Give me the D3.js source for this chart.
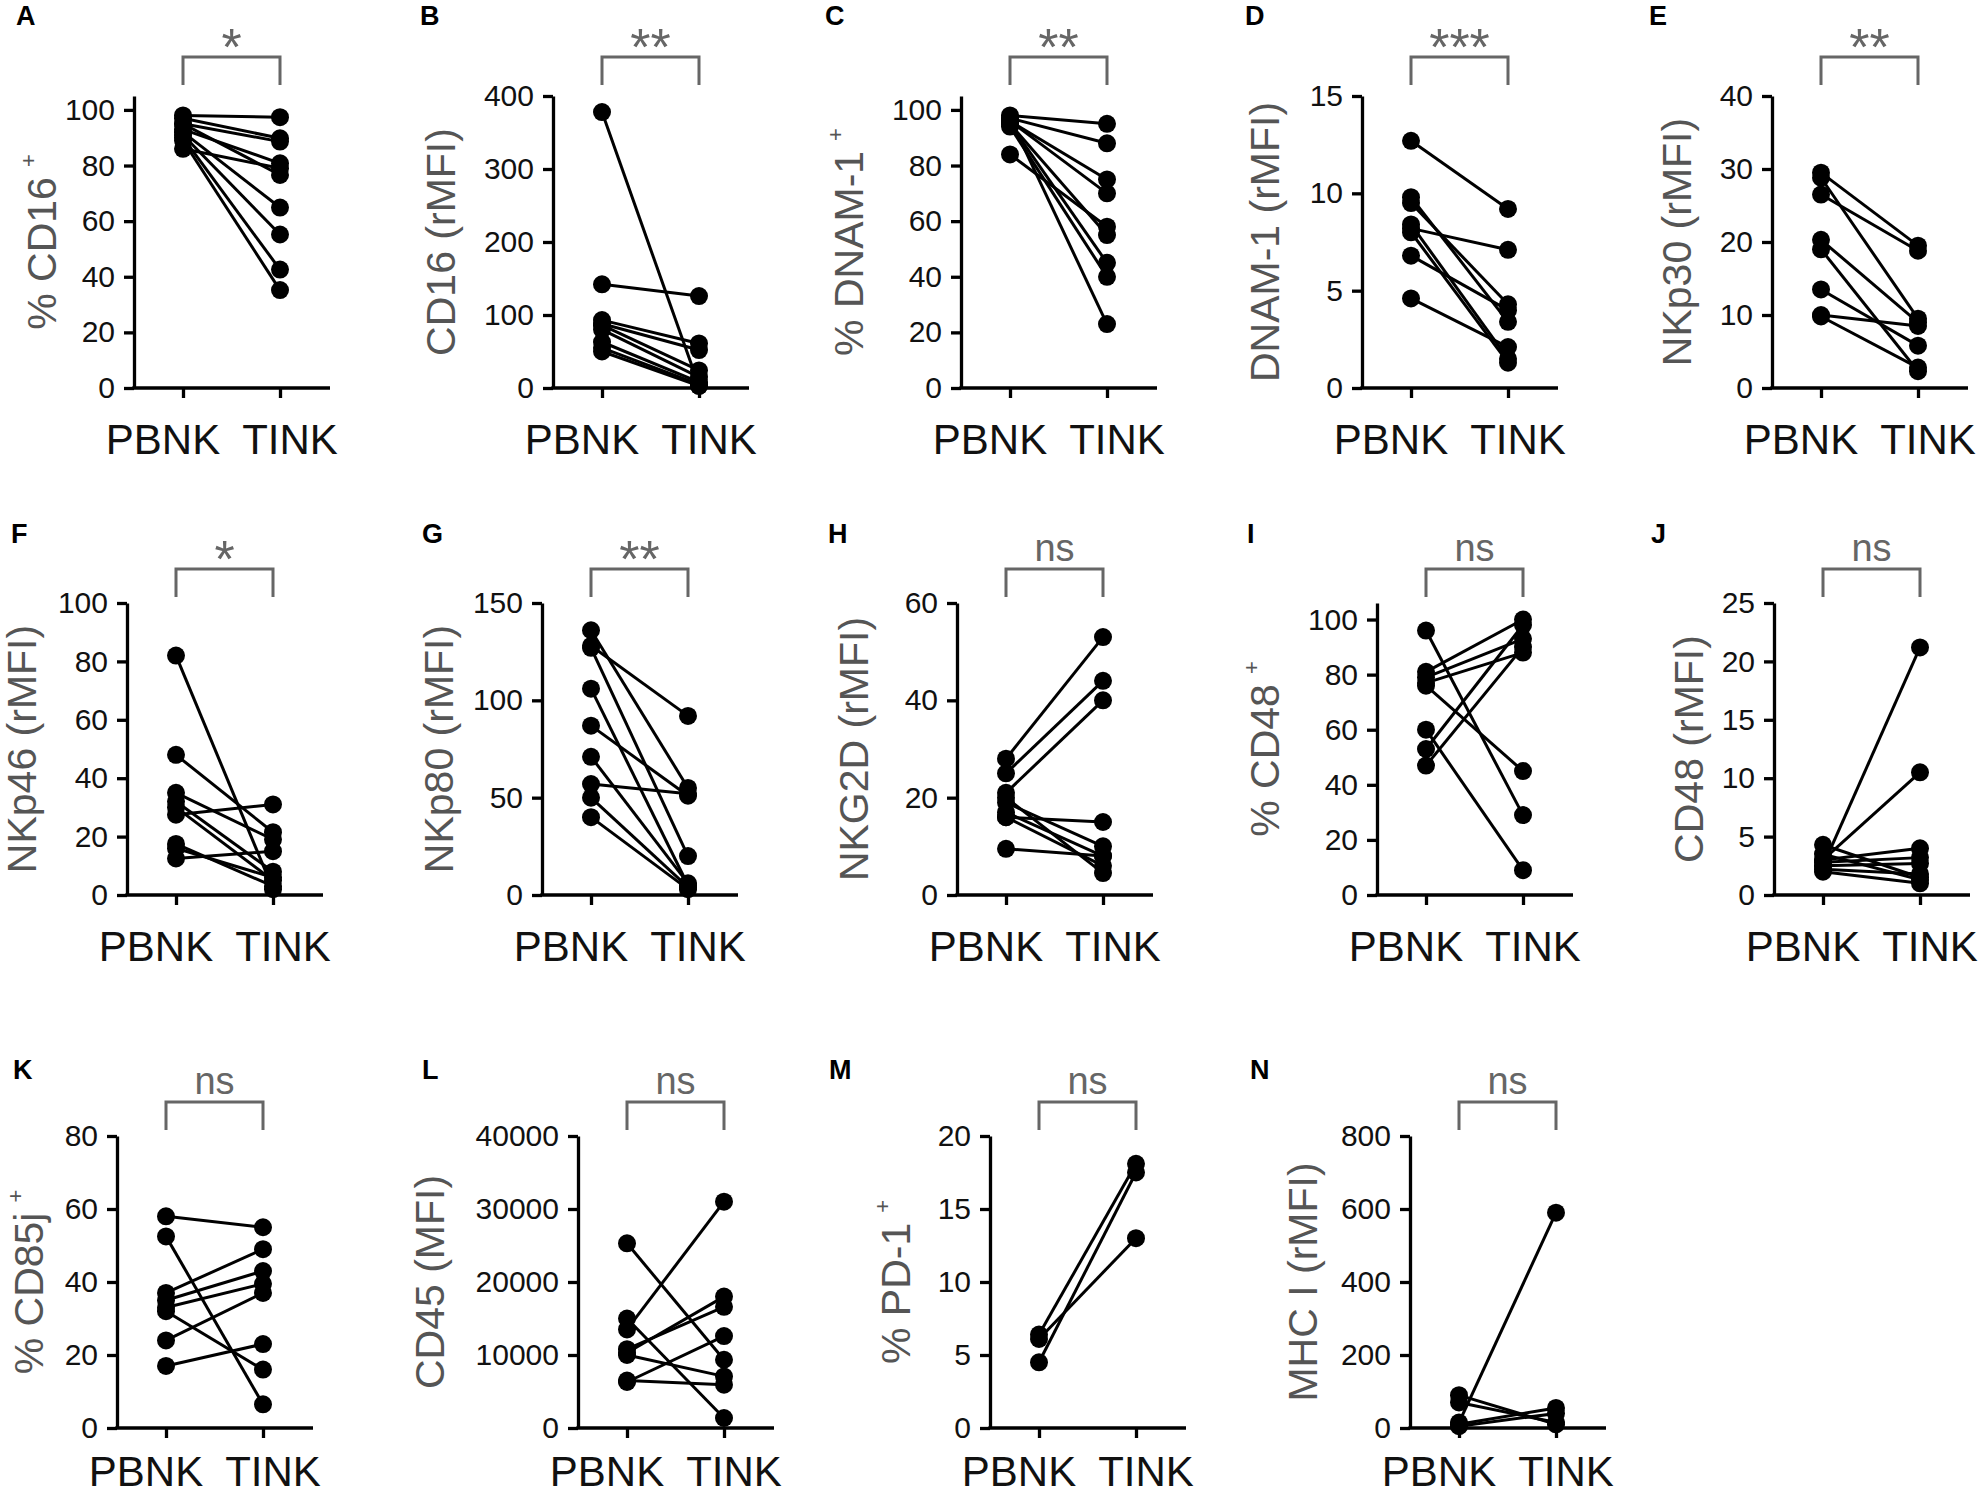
<!DOCTYPE html>
<html>
<head>
<meta charset="utf-8">
<script src="https://cdn.jsdelivr.net/npm/d3@7"></script>
<style>
  body { margin: 0; background: #fff; }
  svg { display: block; font-family: "Liberation Sans", Arial, sans-serif; }
</style>
</head>
<body>
<svg id="chart" width="1983" height="1495"></svg>
<script>
// categories
const groups = ['PBNK', 'TINK'];

// panel texts
const panelLetters = ['A', 'B', 'C', 'D', 'E', 'F', 'G', 'H', 'I', 'J', 'K', 'L', 'M', 'N'];
const yTitles = ['% CD16', 'CD16 (rMFI)', '% DNAM-1', 'DNAM-1 (rMFI)', 'NKp30 (rMFI)',
  'NKp46 (rMFI)', 'NKp80 (rMFI)', 'NKG2D (rMFI)', '% CD48', 'CD48 (rMFI)',
  '% CD85j', 'CD45 (MFI)', '% PD-1', 'MHC I (rMFI)'];
const yTitleSup = ['+', '', '+', '', '', '', '', '', '+', '', '+', '', '+', ''];
const sigLabels = ['*', '**', '**', '***', '**', '*', '**', 'ns', 'ns', 'ns', 'ns', 'ns', 'ns', 'ns'];

// y axes
const yDomainMax = [105, 400, 105, 15, 40, 100, 150, 60, 106, 25, 80, 40000, 20, 800];
const yTicks = [
  [0, 20, 40, 60, 80, 100], [0, 100, 200, 300, 400], [0, 20, 40, 60, 80, 100],
  [0, 5, 10, 15], [0, 10, 20, 30, 40], [0, 20, 40, 60, 80, 100], [0, 50, 100, 150],
  [0, 20, 40, 60], [0, 20, 40, 60, 80, 100], [0, 5, 10, 15, 20, 25], [0, 20, 40, 60, 80],
  [0, 10000, 20000, 30000, 40000], [0, 5, 10, 15, 20], [0, 200, 400, 600, 800]
];

// paired values (PBNK -> TINK)
const cd16PctPB = [98, 97, 95, 93, 86, 92, 91, 90, 89, 95];
const cd16PctTI = [97.4, 89.8, 88.6, 80.8, 79, 64.9, 55.2, 42.6, 35.2, 76.6];
const cd16MfiPB = [378, 142, 93, 88, 86, 80, 63, 55, 50];
const cd16MfiTI = [3, 126, 61, 52, 24, 15, 8, 5, 3];
const dnamPctPB = [98, 97, 96, 96, 84, 95, 95, 94, 97];
const dnamPctTI = [95, 88, 75, 70, 58, 55, 45, 40, 23];
const dnamMfiPB = [12.7, 9.8, 9.5, 8.4, 8.2, 8.0, 6.8, 4.6];
const dnamMfiTI = [9.2, 3.4, 4.3, 1.5, 7.1, 1.3, 4.0, 2.1];
const nkp30PB = [29.5, 28.8, 26.5, 20.3, 19, 13.5, 10, 9.8];
const nkp30TI = [19.5, 9.5, 18.8, 9.0, 2.3, 5.8, 8.5, 2.8];
const nkp46PB = [82, 48, 35, 32, 30, 27.5, 17.5, 16, 12.5];
const nkp46TI = [2, 21.5, 19, 8, 5, 31, 3, 6, 15];
const nkp80PB = [136, 128, 127, 106, 87, 71, 57, 50, 40];
const nkp80TI = [55, 92, 20, 5, 51, 6, 52, 4, 3];
const nkg2dPB = [28, 25, 21, 16, 19, 17, 16, 9.5, 20];
const nkg2dTI = [53, 44, 40, 15, 10, 8, 6, 8, 4.5];
const cd48PctPB = [96, 81, 79, 77, 76, 60, 53, 47];
const cd48PctTI = [29, 100, 93, 88, 45, 9, 98, 90];
const cd48MfiPB = [2.5, 3.0, 4.3, 3.0, 2.8, 2.5, 2.2, 2.0, 3.5];
const cd48MfiTI = [21.2, 10.5, 1.5, 4.0, 3.2, 2.7, 1.8, 1.0, 1.3];
const cd85jPB = [58, 52.5, 37, 35, 33, 32, 24, 17];
const cd85jTI = [55, 6.5, 49, 43, 39.5, 16, 37, 23];
const cd45PB = [25300, 15000, 13500, 10800, 10300, 10000, 6300, 6500];
const cd45TI = [9350, 1370, 31000, 16600, 18000, 7070, 12600, 5930];
const pd1PB = [6.4, 4.5, 6.1];
const pd1TI = [18.1, 17.5, 13];
const mhcPB = [15, 90, 70, 10, 5];
const mhcTI = [590, 10, 15, 55, 40];

const pbnkValues = [cd16PctPB, cd16MfiPB, dnamPctPB, dnamMfiPB, nkp30PB, nkp46PB, nkp80PB,
  nkg2dPB, cd48PctPB, cd48MfiPB, cd85jPB, cd45PB, pd1PB, mhcPB];
const tinkValues = [cd16PctTI, cd16MfiTI, dnamPctTI, dnamMfiTI, nkp30TI, nkp46TI, nkp80TI,
  nkg2dTI, cd48PctTI, cd48MfiTI, cd85jTI, cd45TI, pd1TI, mhcTI];

// layout
const axisX = [134, 553, 961, 1362, 1772, 127, 542, 957, 1377, 1774, 117, 578, 990, 1410];
const letterX = [16, 420, 825, 1245, 1649, 11, 422, 828, 1247, 1651, 13, 422, 829, 1250];
const titleOffset = [-78, -98, -98, -83, -81, -91, -89, -89, -98, -71, -74, -134, -80, -93];
const rows = [
  { top: 96, zero: 388, bracket: 57, letter: 25, label: 454 },
  { top: 603, zero: 895, bracket: 569, letter: 543, label: 961 },
  { top: 1136, zero: 1428, bracket: 1102, letter: 1079, label: 1486 }
];
const rowOf = i => (i < 5 ? 0 : i < 10 ? 1 : 2);

const svg = d3.select('#chart');
svg.append('rect').attr('width', 1983).attr('height', 1495).attr('fill', '#fff');

for (let i = 0; i < panelLetters.length; i++) {
  const row = rows[rowOf(i)];
  const x0 = axisX[i];
  const g = svg.append('g');

  const y = d3.scaleLinear().domain([0, yDomainMax[i]]).range([row.zero, row.top]);
  const x = d3.scalePoint().domain(groups).range([x0 + 49, x0 + 146]);

  // panel letter
  g.append('text')
    .attr('x', letterX[i]).attr('y', row.letter)
    .attr('font-size', 27).attr('font-weight', 'bold').attr('fill', '#000')
    .text(panelLetters[i]);

  // y axis
  const yAxis = g.append('g')
    .attr('transform', 'translate(' + x0 + ',0)')
    .call(d3.axisLeft(y).tickValues(yTicks[i]).tickFormat(d3.format('d'))
      .tickSize(10).tickSizeOuter(0).tickPadding(9));
  yAxis.select('.domain').attr('stroke', '#000').attr('stroke-width', 3.3);
  yAxis.selectAll('.tick line').attr('stroke', '#000').attr('stroke-width', 3.3);
  yAxis.selectAll('.tick text')
    .attr('font-size', 30).attr('fill', '#111')
    .attr('font-family', '"Liberation Sans", Arial, sans-serif');

  // x axis
  const xAxis = g.append('g')
    .attr('transform', 'translate(0,' + row.zero + ')')
    .call(d3.axisBottom(x).tickSize(10).tickSizeOuter(0).tickFormat(''));
  xAxis.select('.domain').remove();
  xAxis.selectAll('.tick line').attr('stroke', '#000').attr('stroke-width', 3.3);
  g.append('line')
    .attr('x1', x0 - 1.65).attr('x2', x0 + 196)
    .attr('y1', row.zero).attr('y2', row.zero)
    .attr('stroke', '#000').attr('stroke-width', 3.3);

  // group labels
  g.append('text')
    .attr('x', x('PBNK') - 20).attr('y', row.label)
    .attr('text-anchor', 'middle').attr('font-size', 42).attr('fill', '#111')
    .text('PBNK');
  g.append('text')
    .attr('x', x('TINK') + 10).attr('y', row.label)
    .attr('text-anchor', 'middle').attr('font-size', 42).attr('fill', '#111')
    .text('TINK');

  // y title
  const cy = (row.top + row.zero) / 2;
  const t = g.append('text')
    .attr('transform', 'translate(' + (x0 + titleOffset[i]) + ',' + cy + ') rotate(-90)')
    .attr('text-anchor', 'middle').attr('font-size', 41).attr('fill', '#555');
  t.append('tspan').text(yTitles[i]);
  if (yTitleSup[i]) {
    t.append('tspan').attr('font-size', 22).attr('dx', 10).attr('dy', -20).text(yTitleSup[i]);
  }

  // significance bracket
  const bx1 = x('PBNK'), bx2 = x('TINK');
  g.append('path')
    .attr('d', 'M' + bx1 + ',' + (row.bracket + 28) + 'V' + row.bracket + 'H' + bx2 + 'V' + (row.bracket + 28))
    .attr('fill', 'none').attr('stroke', '#666').attr('stroke-width', 3);
  const isStar = sigLabels[i] !== 'ns';
  g.append('text')
    .attr('x', (bx1 + bx2) / 2)
    .attr('y', isStar ? row.bracket + 8 : row.bracket - 8)
    .attr('text-anchor', 'middle')
    .attr('font-size', isStar ? 52 : 38)
    .attr('fill', '#666')
    .text(sigLabels[i]);

  // paired lines and dots
  const pb = pbnkValues[i], ti = tinkValues[i];
  const pairs = pb.map((v, k) => [v, ti[k]]);
  g.selectAll('line.pair').data(pairs).enter().append('line')
    .attr('class', 'pair')
    .attr('x1', x('PBNK')).attr('y1', d => y(d[0]))
    .attr('x2', x('TINK')).attr('y2', d => y(d[1]))
    .attr('stroke', '#000').attr('stroke-width', 3);
  g.selectAll('circle.pb').data(pb).enter().append('circle')
    .attr('class', 'pb')
    .attr('cx', x('PBNK')).attr('cy', d => y(d)).attr('r', 9).attr('fill', '#000');
  g.selectAll('circle.ti').data(ti).enter().append('circle')
    .attr('class', 'ti')
    .attr('cx', x('TINK')).attr('cy', d => y(d)).attr('r', 9).attr('fill', '#000');
}
</script>
</body>
</html>
